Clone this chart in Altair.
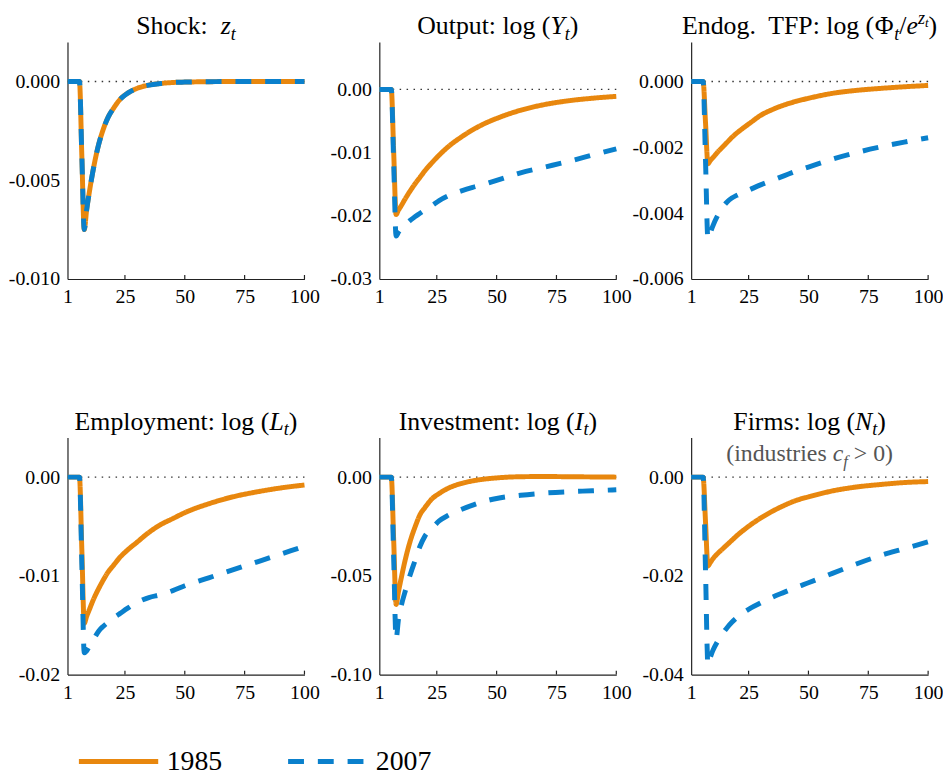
import altair as alt
import pandas as pd

# ---------------- data ----------------
T = [1, 6, 7, 8, 9, 10, 12, 14, 16, 18, 20, 23, 26, 30, 35, 40, 45, 50, 60, 70, 80, 90, 100]
SERIES = ["1985", "2007"]

SHOCK_1985 = [0, 0, -0.0038, -0.0075, -0.0065, -0.0057, -0.0043, -0.0032, -0.0024, -0.0018, -0.0014,
              -0.0009, -0.0006, -0.00035, -0.00018, -0.0001, -0.00005, -0.00003, -0.00001, 0, 0, 0, 0]
SHOCK_2007 = [0, 0, -0.0038, -0.0075, -0.0065, -0.0057, -0.0043, -0.0032, -0.0024, -0.0018, -0.0014,
              -0.0009, -0.0006, -0.00035, -0.00018, -0.0001, -0.00005, -0.00003, -0.00001, 0, 0, 0, 0]

OUTPUT_1985 = [0, 0, -0.0099, -0.0198, -0.0191, -0.0185, -0.0172, -0.0160, -0.0149, -0.0139, -0.0129,
               -0.0116, -0.0104, -0.0090, -0.0076, -0.0064, -0.0054, -0.0046, -0.0033, -0.0024, -0.0018,
               -0.0014, -0.0011]
OUTPUT_2007 = [0, 0, -0.0116, -0.0232, -0.0226, -0.0221, -0.0214, -0.0207, -0.0201, -0.0196, -0.0191,
               -0.0184, -0.0176, -0.0168, -0.0161, -0.0155, -0.0150, -0.0144, -0.0132, -0.0123, -0.0114,
               -0.0104, -0.0094]

TFP_1985 = [0, 0, -0.00125, -0.00250, -0.00240, -0.00232, -0.00215, -0.00200, -0.00185, -0.00170,
            -0.00157, -0.00140, -0.00124, -0.00103, -0.00085, -0.00071, -0.00060, -0.00051, -0.00036,
            -0.00027, -0.00021, -0.00016, -0.00012]
TFP_2007 = [0, 0, -0.0024, -0.00478, -0.00460, -0.00440, -0.00408, -0.00384, -0.00366, -0.00354,
            -0.00346, -0.00337, -0.00327, -0.00314, -0.00300, -0.00286, -0.00272, -0.00260, -0.00236,
            -0.00216, -0.00199, -0.00184, -0.00171]

EMP_1985 = [0, 0, -0.0074, -0.0148, -0.0141, -0.0135, -0.0123, -0.0113, -0.0104, -0.0096, -0.0090,
            -0.0081, -0.0074, -0.0066, -0.0056, -0.0048, -0.0042, -0.0036, -0.0027, -0.0020, -0.0015,
            -0.0011, -0.0008]
EMP_2007 = [0, 0, -0.0089, -0.0178, -0.0176, -0.0172, -0.0164, -0.0156, -0.0151, -0.0147, -0.0143,
            -0.0138, -0.0133, -0.0127, -0.0122, -0.0119, -0.0115, -0.0110, -0.0102, -0.0094, -0.0086,
            -0.0078, -0.0070]

INV_1985 = [0, 0, -0.032, -0.0645, -0.058, -0.052, -0.041, -0.032, -0.025, -0.019, -0.0155,
            -0.011, -0.0083, -0.0055, -0.0033, -0.0019, -0.0010, -0.0004, 0.0002, 0.0003, 0.0002,
            0.0001, 0.0]
INV_2007 = [0, 0, -0.041, -0.082, -0.072, -0.066, -0.057, -0.049, -0.042, -0.035, -0.030,
            -0.026, -0.0222, -0.0192, -0.0165, -0.0142, -0.0122, -0.0108, -0.0092, -0.0081, -0.0074,
            -0.0069, -0.0064]

FIRMS_1985 = [0, 0, -0.0091, -0.0180, -0.0173, -0.0166, -0.0155, -0.0146, -0.0137, -0.0128, -0.0119,
              -0.0107, -0.0096, -0.0083, -0.0069, -0.0057, -0.0047, -0.0040, -0.0028, -0.0020, -0.0015,
              -0.0011, -0.0009]
FIRMS_2007 = [0, 0, -0.0190, -0.0380, -0.0365, -0.0352, -0.0333, -0.0318, -0.0305, -0.0294, -0.0285,
              -0.0274, -0.0265, -0.0255, -0.0243, -0.0233, -0.0223, -0.0214, -0.0195, -0.0176, -0.0159,
              -0.0145, -0.0131]

X_TICKS = [1, 25, 50, 75, 100]

# ---------------- style ----------------
ORANGE = "#E8870E"
BLUE = "#0A80CC"
FONT = "Liberation Serif"
W = 239
H = 239
TITLE_SIZE = 26
SUB_SIZE = 24
TICK_SIZE = 20
LEGEND_SIZE = 28
TITLE_BASE = -8
SUB_BASE = 24
AXIS_COLOR = "#222222"
NB = "\u00a0"

# Times-like advance widths (per 1000 em)
RM_W = {" ": 250, NB: 250, "(": 333, ")": 333, ".": 250, ":": 278, "/": 278, ">": 564, "0": 500,
        "a": 444, "b": 500, "c": 444, "d": 500, "e": 444, "f": 333, "g": 500, "h": 500, "i": 278,
        "k": 500, "l": 278, "m": 778, "n": 500, "o": 500, "p": 500, "r": 333, "s": 389, "t": 278,
        "u": 500, "v": 500, "y": 500, "E": 611, "F": 556, "I": 333, "O": 722, "P": 556, "S": 556,
        "T": 611, "Φ": 760}
IT_W = {" ": 250, NB: 250, "z": 389, "Y": 556, "L": 556, "I": 333, "N": 667, "e": 444, "t": 278,
        "c": 444, "f": 278}

KIND = {
    "rm": dict(italic=False, scale=1.0, dy=0.0),
    "it": dict(italic=True, scale=1.0, dy=0.0),
    "sub": dict(italic=True, scale=0.7, dy=0.22),
    "sup": dict(italic=True, scale=0.7, dy=-0.40),
    "supsub": dict(italic=True, scale=0.5, dy=-0.28),
}


def text_width(s, italic, size):
    tbl = IT_W if italic else RM_W
    return sum(tbl.get(c, 500) for c in s) / 1000.0 * size


def rich_text(pieces, base_size, center_x, baseline_y, color="black"):
    widths = []
    for t, k in pieces:
        spec = KIND[k]
        widths.append(text_width(t, spec["italic"], base_size * spec["scale"]))
    x = center_x - sum(widths) / 2.0
    layers = []
    for (t, k), w in zip(pieces, widths):
        spec = KIND[k]
        size = base_size * spec["scale"]
        lead = len(t) - len(t.lstrip(" "))
        shown = t.strip(" ")
        if shown:
            xo = x + text_width(" " * lead, spec["italic"], size)
            layers.append(
                alt.Chart(pd.DataFrame({"s": [shown]}))
                .mark_text(align="left", baseline="alphabetic", font=FONT, fontSize=size,
                           fontStyle="italic" if spec["italic"] else "normal", color=color)
                .encode(x=alt.value(xo), y=alt.value(baseline_y + spec["dy"] * base_size), text="s:N")
            )
        x += w
    return layers


PANELS = [
    dict(values=(SHOCK_1985, SHOCK_2007), domain=[-0.010, 0.002], ticks=[0, -0.005, -0.010], fmt=".3f",
         title=[("Shock:" + NB + NB, "rm"), ("z", "it"), ("t", "sub")]),
    dict(values=(OUTPUT_1985, OUTPUT_2007), domain=[-0.03, 0.0075], ticks=[0, -0.01, -0.02, -0.03], fmt=".2f",
         title=[("Output: log (", "rm"), ("Y", "it"), ("t", "sub"), (")", "rm")]),
    dict(values=(TFP_1985, TFP_2007), domain=[-0.006, 0.0012], ticks=[0, -0.002, -0.004, -0.006], fmt=".3f",
         title=[("Endog." + NB + " TFP: log (", "rm"), ("Φ", "rm"), ("t", "sub"), ("/", "rm"), ("e", "it"),
                ("z", "sup"), ("t", "supsub"), (")", "rm")]),
    dict(values=(EMP_1985, EMP_2007), domain=[-0.02, 0.004], ticks=[0, -0.01, -0.02], fmt=".2f",
         title=[("Employment: log (", "rm"), ("L", "it"), ("t", "sub"), (")", "rm")]),
    dict(values=(INV_1985, INV_2007), domain=[-0.10, 0.02], ticks=[0, -0.05, -0.10], fmt=".2f",
         title=[("Investment: log (", "rm"), ("I", "it"), ("t", "sub"), (")", "rm")]),
    dict(values=(FIRMS_1985, FIRMS_2007), domain=[-0.04, 0.008], ticks=[0, -0.02, -0.04], fmt=".2f",
         title=[("Firms: log (", "rm"), ("N", "it"), ("t", "sub"), (")", "rm")],
         subtitle=[("(industries ", "rm"), ("c", "it"), ("f", "sub"), (" > 0)", "rm")]),
]


def make_panel(p):
    rows = []
    for s, vals in zip(SERIES, p["values"]):
        for t, v in zip(T, vals):
            rows.append({"t": t, "v": v, "series": s})
    df = pd.DataFrame(rows)
    xs = alt.Scale(domain=[1, 100], nice=False, zero=False)
    ys = alt.Scale(domain=p["domain"], nice=False, zero=False)
    label_expr = "(datum.value < 0 ? '-' : '') + format(abs(datum.value), '%s')" % p["fmt"]
    common = dict(title=None, labelFont=FONT, labelFontSize=TICK_SIZE, labelColor="black",
                  labelPadding=8, labelFlush=False, labelOverlap=False, ticks=False,
                  domainColor=AXIS_COLOR, domainWidth=1.2, grid=False)
    x_axis = alt.Axis(values=X_TICKS, format="d", **common)
    y_axis = alt.Axis(values=p["ticks"], labelExpr=label_expr, **common)

    zero = alt.Chart(pd.DataFrame({"z": [0.0]})).mark_rule(
        color="#333333", strokeWidth=1.4, strokeDash=[1.5, 5.5]
    ).encode(y=alt.Y("z:Q", scale=ys, axis=y_axis))

    lines = alt.Chart(df).mark_line(strokeWidth=5, interpolate="monotone", strokeCap="butt").encode(
        x=alt.X("t:Q", scale=xs, axis=x_axis),
        y=alt.Y("v:Q", scale=ys, axis=y_axis),
        color=alt.Color("series:N", scale=alt.Scale(domain=SERIES, range=[ORANGE, BLUE]), title=None),
        strokeDash=alt.StrokeDash("series:N", scale=alt.Scale(domain=SERIES, range=[[1, 0], [16, 14]]),
                                  title=None),
    )

    xt = alt.Chart(pd.DataFrame({"t": X_TICKS[1:]})).mark_rule(color=AXIS_COLOR, strokeWidth=1.2).encode(
        x=alt.X("t:Q", scale=xs, axis=x_axis), y=alt.value(H), y2=alt.value(H - 4)
    )

    layers = [zero, lines, xt]
    layers += rich_text(p["title"], TITLE_SIZE, W / 2.0, TITLE_BASE)
    if "subtitle" in p:
        layers += rich_text(p["subtitle"], SUB_SIZE, W / 2.0, SUB_BASE, color="#555555")
    return alt.layer(*layers).properties(width=W, height=H)


panels = [make_panel(p) for p in PANELS]

chart = (
    alt.concat(*panels, columns=3, spacing={"row": 160, "column": 75.5}, bounds="flush")
    .properties(padding={"left": 0, "top": -3, "right": 0, "bottom": 0})
    .configure_view(stroke=None)
    .configure_axis(
        domainColor=AXIS_COLOR, domainWidth=1.2, ticks=False, tickSize=0, grid=False,
        labelFont=FONT, labelFontSize=TICK_SIZE, labelColor="black", labelPadding=8,
        labelFlush=False, labelOverlap=False,
    )
    .configure_legend(
        orient="none", legendX=9, legendY=683, direction="horizontal", title=None,
        symbolType="stroke", symbolSize=6400, symbolStrokeWidth=5, labelFont=FONT,
        labelFontSize=LEGEND_SIZE, labelColor="black", labelOffset=6, columnPadding=56,
    )
)

chart.save("out.html", embed_options={"renderer": "svg", "actions": False})
